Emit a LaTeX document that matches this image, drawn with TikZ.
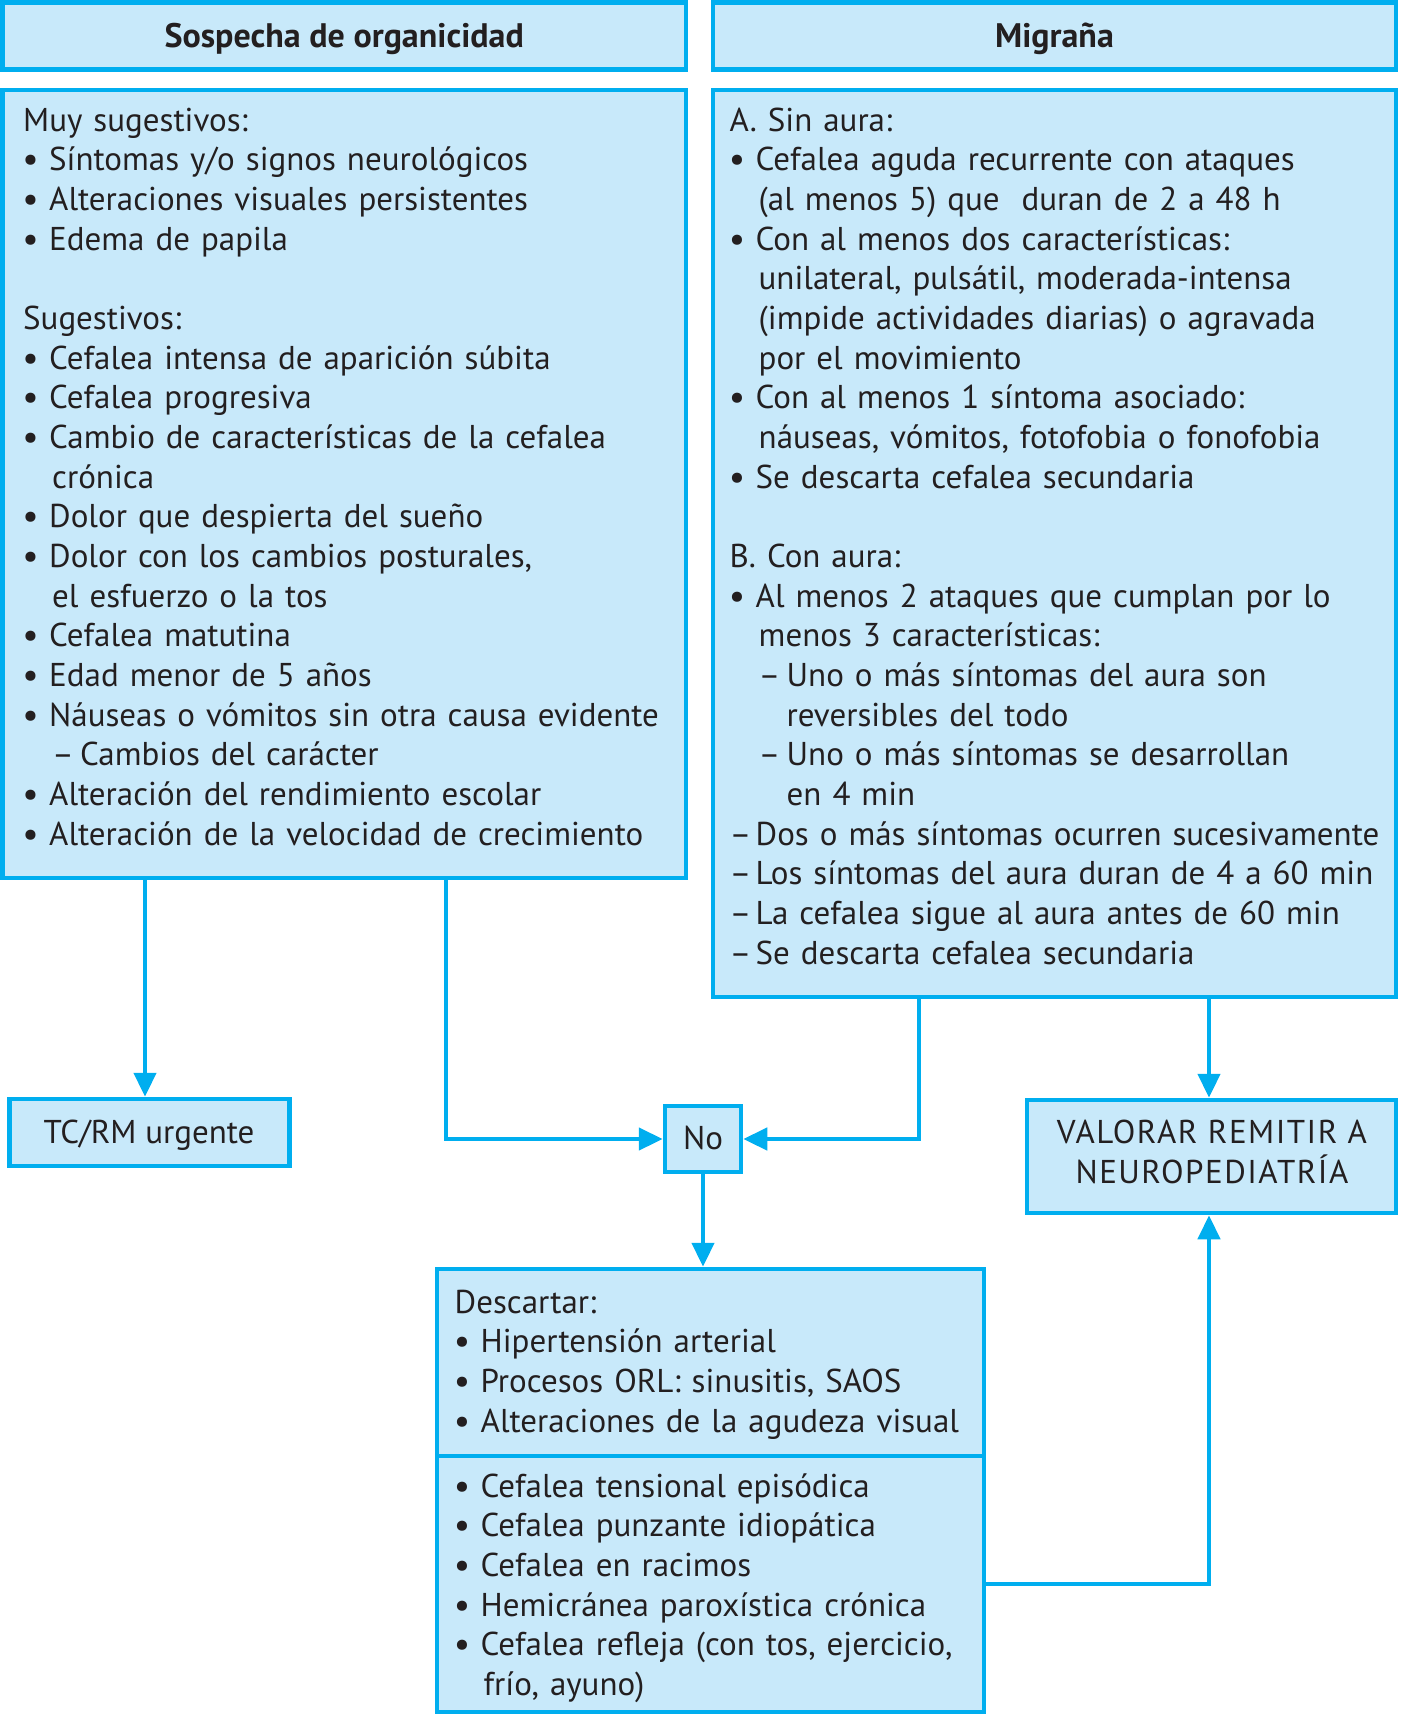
\documentclass[tikz,border=0pt]{standalone}
\usepackage{fontspec}
\setmainfont{PT Sans}
\usetikzlibrary{arrows.meta}
\definecolor{bfill}{HTML}{C8E9FA}
\definecolor{bline}{HTML}{00AEEF}
\definecolor{ink}{HTML}{231F20}
\newcommand{\bu}{\makebox[26pt][l]{\bfseries •}}
\newcommand{\cont}{\hspace*{29pt}}
\newcommand{\sdash}{\hspace*{29pt}\makebox[28pt][l]{–}}
\newcommand{\scont}{\hspace*{57pt}}
\newcommand{\tdash}{\makebox[26pt][l]{–}}
\begin{document}
\begin{tikzpicture}[x=1pt,y=-1pt,
 box/.style={draw=bline, fill=bfill, line width=4.5pt, inner sep=0pt},
 hdrt/.style={inner sep=0pt, anchor=base, text=ink, font=\fontsize{34}{40}\selectfont\bfseries},
 lblt/.style={inner sep=0pt, anchor=base, text=ink, font=\fontsize{33}{39.68}\selectfont},
 txt/.style={inner sep=0pt, anchor=base west, align=left, text width=720pt, text=ink, font=\fontsize{33}{39.68}\selectfont},
 arr/.style={draw=bline, line width=4.5pt, -{Triangle[length=24pt,width=22pt]}},
 sep/.style={draw=bline, line width=4.5pt},
]
\useasboundingbox (0,0) rectangle (1401,1717);
% boxes
\node[box, minimum width=683.5pt, minimum height=67pt] (hdrL) at (344.25,36) {};
\node[box, minimum width=683pt, minimum height=67pt] (hdrR) at (1054.5,36) {};
\node[box, minimum width=683.5pt, minimum height=788pt] (boxL) at (344.25,484) {};
\node[box, minimum width=683pt, minimum height=907pt] (boxR) at (1054.5,543.5) {};
\node[box, minimum width=280pt, minimum height=67pt] (tc) at (149.25,1132.5) {};
\node[box, minimum width=76pt, minimum height=66pt] (no) at (703,1139) {};
\node[box, minimum width=369pt, minimum height=113pt] (val) at (1211.5,1156.5) {};
\node[box, minimum width=547pt, minimum height=443pt] (desc) at (710.5,1490.5) {};
\coordinate (dv) at (0,1456);
\draw[sep] (desc.west |- dv) -- (desc.east |- dv);
% labels
\node[hdrt] (hdrLt) at (344.25,47) {Sospecha de organicidad};
\node[hdrt] (hdrRt) at (1054.5,47) {Migraña};
\node[lblt] (tct) at (149,1143) {TC/RM urgente};
\node[lblt] (not) at (703,1149) {No};
\node[lblt, font=\fontsize{33}{40}\selectfont\addfontfeature{LetterSpace=4.5}] (valt1) at (1212,1143) {VALORAR REMITIR A};
\node[lblt, font=\fontsize{33}{40}\selectfont\addfontfeature{LetterSpace=4.5}] (valt2) at (1212,1183) {NEUROPEDIATRÍA};
% texts
\node[txt] (tL) at (23,131) {Muy sugestivos:\\
\bu Síntomas y/o signos neurológicos\\
\bu Alteraciones visuales persistentes\\
\bu Edema de papila\\[39.68pt]
Sugestivos:\\
\bu Cefalea intensa de aparición súbita\\
\bu Cefalea progresiva\\
\bu Cambio de características de la cefalea\\
\cont crónica\\
\bu Dolor que despierta del sueño\\
\bu Dolor con los cambios posturales,\\
\cont el esfuerzo o la tos\\
\bu Cefalea matutina\\
\bu Edad menor de 5 años\\
\bu Náuseas o vómitos sin otra causa evidente\\
\sdash Cambios del carácter\\
\bu Alteración del rendimiento escolar\\
\bu Alteración de la velocidad de crecimiento};
\node[txt] (tR) at (729.5,131) {A. Sin aura:\\
\bu Cefalea aguda recurrente con ataques\\
\cont (al menos 5) que\ \ duran de 2 a 48 h\\
\bu Con al menos dos características:\\
\cont unilateral, pulsátil, moderada-intensa\\
\cont (impide actividades diarias) o agravada\\
\cont por el movimiento\\
\bu Con al menos 1 síntoma asociado:\\
\cont náuseas, vómitos, fotofobia o fonofobia\\
\bu Se descarta cefalea secundaria\\[39.68pt]
B. Con aura:\\
\bu Al menos 2 ataques que cumplan por lo\\
\cont menos 3 características:\\
\sdash Uno o más síntomas del aura son\\
\scont reversibles del todo\\
\sdash Uno o más síntomas se desarrollan\\
\scont en 4 min\\
\tdash Dos o más síntomas ocurren sucesivamente\\
\tdash Los síntomas del aura duran de 4 a 60 min\\
\tdash La cefalea sigue al aura antes de 60 min\\
\tdash Se descarta cefalea secundaria};
\node[txt] (tD1) at (454.5,1313) {Descartar:\\
\bu Hipertensión arterial\\
\bu Procesos ORL: sinusitis, SAOS\\
\bu Alteraciones de la agudeza visual};
\node[txt] (tD2) at (454.5,1497) {\bu Cefalea tensional episódica\\
\bu Cefalea punzante idiopática\\
\bu Cefalea en racimos\\
\bu Hemicránea paroxística crónica\\
\bu Cefalea refleja (con tos, ejercicio,\\
\cont frío, ayuno)};
% connectors
\coordinate (c1) at (145,0);
\coordinate (c2) at (446,0);
\coordinate (c3) at (919,0);
\coordinate (c4) at (1209,0);
\coordinate (cy) at (0,1584);
\draw[arr] (boxL.south -| c1) -- (tc.north -| c1);
\draw[arr] (boxL.south -| c2) |- (no.west);
\draw[arr] (boxR.south -| c3) |- (no.east);
\draw[arr] (boxR.south -| c4) -- (val.north -| c4);
\draw[arr] (no.south) -- (desc.north -| no);
\draw[arr] (desc.east |- cy) -| (val.south -| c4);
\end{tikzpicture}
\end{document}
